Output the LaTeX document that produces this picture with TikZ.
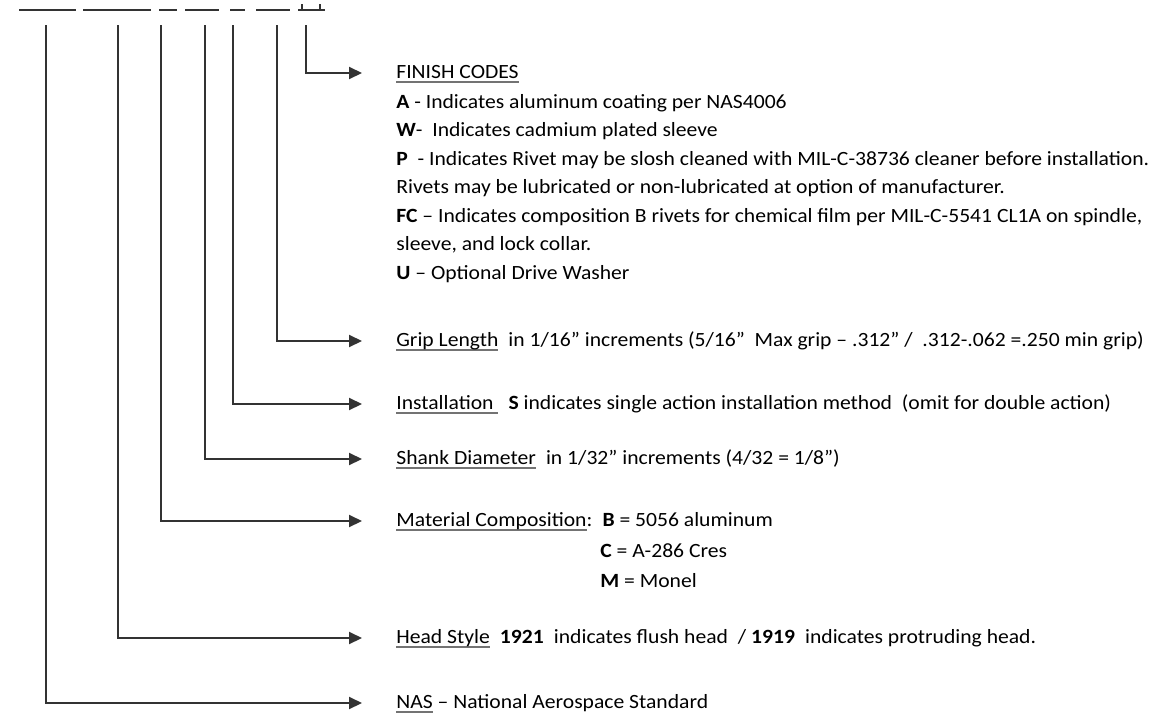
\documentclass[tikz,border=0pt]{standalone}
\usepackage{fontspec}
\setmainfont{Carlito}[FakeStretch=1.07]
\usepackage{tikz}
\usetikzlibrary{arrows.meta, positioning, calc}

\newsavebox{\hdrbox}
\newcommand{\hdr}[1]{\sbox{\hdrbox}{#1}\rlap{\color{black!55}\rule[-2.4pt]{\wd\hdrbox}{0.9pt}}\usebox{\hdrbox}}

\begin{document}
\begin{tikzpicture}[
        x=0.02cm, y=-0.02cm,
        font=\fontsize{11.5}{16.2}\selectfont,
        field/.style={anchor=west, inner sep=0pt, text height=0.85em, text depth=0.2em},
        block/.style={anchor=north west, inner sep=0pt, align=left},
        blank/.style={line width=0.04cm, draw=black!80},
        arrow/.style={-{Triangle[length=0.26cm, width=0.24cm]}, line width=0.04cm, draw=black!80, shorten >=0.68cm}
    ]
    \useasboundingbox (0,0) rectangle (1176,720);

    % Part number blanks
    \foreach \a/\b in {19/76, 83/151, 159/177, 185/219, 230/245, 256/290, 298/325}
        \draw [blank] (\a,10) -- (\b,10);
    \draw [blank] (302,10) -- (302,4) (320,10) -- (320,4);

    % Taps under the blanks
    \coordinate (tnas) at (46,25);
    \coordinate (thead) at (118,25);
    \coordinate (tmat) at (161,25);
    \coordinate (tshank) at (205,25);
    \coordinate (tinst) at (233,25);
    \coordinate (tgrip) at (277,25);
    \coordinate (tfin) at (306,25);

    % Nodes
    \node (finish) [field] at (396,73) {\hdr{FINISH CODES}};
    \node (codes) [block] at (396,94) {\textbf{A} - Indicates aluminum coating per NAS4006\\
        \textbf{W}-~ Indicates cadmium plated sleeve\\
        \textbf{P}~ - Indicates Rivet may be slosh cleaned with MIL-C-38736 cleaner before installation.\\
        Rivets may be lubricated or non-lubricated at option of manufacturer.\\
        \textbf{FC} – Indicates composition B rivets for chemical film per MIL-C-5541 CL1A on spindle,\\
        sleeve, and lock collar.\\
        \textbf{U} – Optional Drive Washer};

    \node (grip) [field] at (396,341) {\hdr{Grip Length}\enspace in 1/16” increments (5/16”~ Max grip – .312” /~ .312-.062 =.250 min grip)};
    \node (inst) [field] at (396,404) {\hdr{Installation\ }\enspace\textbf{S} indicates single action installation method~ (omit for double action)};
    \node (shank) [field] at (396,459) {\hdr{Shank Diameter}\enspace in 1/32” increments (4/32 = 1/8”)};
    \node (mat) [field] at (396,521) {\hdr{Material Composition}:\hspace{0.5em}\textbf{B} = 5056 aluminum};
    \node (matmore) [block, font=\fontsize{11.5}{17.2}\selectfont] at (600,543) {\textbf{C} = A-286 Cres\\ \textbf{M} = Monel};
    \node (head) [field] at (396,638) {\hdr{Head Style}\enspace\textbf{1921}\enspace indicates flush head~ / \textbf{1919}\enspace indicates protruding head.};
    \node (nas) [field] at (396,703) {\hdr{NAS} – National Aerospace Standard};

    % Arrows
    \draw [arrow] (tfin) |- (finish);
    \draw [arrow] (tgrip) |- (grip);
    \draw [arrow] (tinst) |- (inst);
    \draw [arrow] (tshank) |- (shank);
    \draw [arrow] (tmat) |- (mat);
    \draw [arrow] (thead) |- (head);
    \draw [arrow] (tnas) |- (nas);

\end{tikzpicture}
\end{document}
